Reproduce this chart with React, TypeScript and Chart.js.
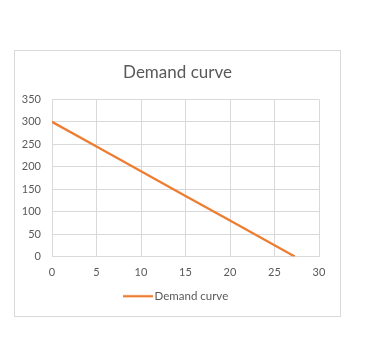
import React, { useEffect, useRef } from "react";
import { Chart, registerables } from "chart.js";

Chart.register(...registerables);

const title = "Demand curve";
const seriesName = "Demand curve";
const quantity = [0, 5, 10, 15, 20, 25, 27.27];
const price = [300, 245, 190, 135, 80, 25, 0];
const xMin = 0;
const xMax = 30;
const xStep = 5;
const yMin = 0;
const yMax = 350;
const yStep = 50;

const FONT = "Lato, 'Open Sans', sans-serif";
const TEXT = "#595959";
const GRID = "#d9d9d9";
const LINE = "#ed7d31";

function makeLegendLine(): HTMLCanvasElement {
  const c = document.createElement("canvas");
  c.width = 30;
  c.height = 4;
  const ctx = c.getContext("2d");
  if (ctx) {
    ctx.strokeStyle = LINE;
    ctx.lineWidth = 2.25;
    ctx.beginPath();
    ctx.moveTo(0, 2);
    ctx.lineTo(30, 2);
    ctx.stroke();
  }
  return c;
}

export default function App() {
  const ref = useRef<HTMLCanvasElement | null>(null);

  useEffect(() => {
    if (!ref.current) return;
    const legendLine = makeLegendLine();
    const chart = new Chart(ref.current, {
      type: "scatter",
      data: {
        datasets: [
          {
            label: seriesName,
            data: quantity.map((q, i) => ({ x: q, y: price[i] })),
            showLine: true,
            borderColor: LINE,
            backgroundColor: LINE,
            borderWidth: 2.25,
            pointRadius: 0,
            pointHoverRadius: 0,
            tension: 0,
            xAxisID: "x",
            yAxisID: "y",
          },
        ],
      },
      options: {
        responsive: false,
        animation: false,
        devicePixelRatio: 1,
        layout: { padding: { left: 0, right: 0, top: 0, bottom: 4 } },
        plugins: {
          tooltip: { enabled: false },
          title: {
            display: true,
            text: title,
            color: TEXT,
            font: { family: FONT, size: 17, weight: "normal" },
            padding: { top: 11, bottom: 17 },
          },
          legend: {
            display: true,
            position: "bottom",
            labels: {
              usePointStyle: true,
              pointStyle: legendLine as any,
              pointStyleWidth: 22,
              boxHeight: 12,
              padding: 3,
              color: TEXT,
              font: { family: FONT, size: 11.5 },
            },
          },
        },
        scales: {
          x: {
            type: "linear",
            min: xMin,
            max: xMax,
            ticks: {
              stepSize: xStep,
              color: TEXT,
              font: { family: FONT, size: 11 },
              padding: 9,
              maxRotation: 0,
            },
            grid: { color: GRID, drawTicks: false, lineWidth: 1 },
            border: { color: GRID, width: 1 },
            afterFit: (s: any) => {
              s.height = 31;
            },
          },
          y: {
            type: "linear",
            min: yMin,
            max: yMax,
            ticks: {
              stepSize: yStep,
              color: TEXT,
              font: { family: FONT, size: 11 },
              padding: 11,
            },
            grid: { color: GRID, drawTicks: false, lineWidth: 1 },
            border: { color: GRID, width: 1 },
            afterFit: (s: any) => {
              s.width = 37;
            },
          },
          yRight: {
            type: "linear",
            position: "right",
            min: yMin,
            max: yMax,
            display: true,
            ticks: { display: false },
            grid: { display: false, drawOnChartArea: false, drawTicks: false },
            border: { display: false },
            afterFit: (s: any) => {
              s.width = 21;
            },
          },
        },
      },
    });
    return () => chart.destroy();
  }, []);

  return (
    <div
      style={{
        position: "absolute",
        left: 14,
        top: 50,
        width: 325,
        height: 265,
        border: "1px solid #d9d9d9",
        background: "#fff",
      }}
    >
      <canvas ref={ref} width={325} height={265} style={{ display: "block", width: 325, height: 265 }} />
    </div>
  );
}
